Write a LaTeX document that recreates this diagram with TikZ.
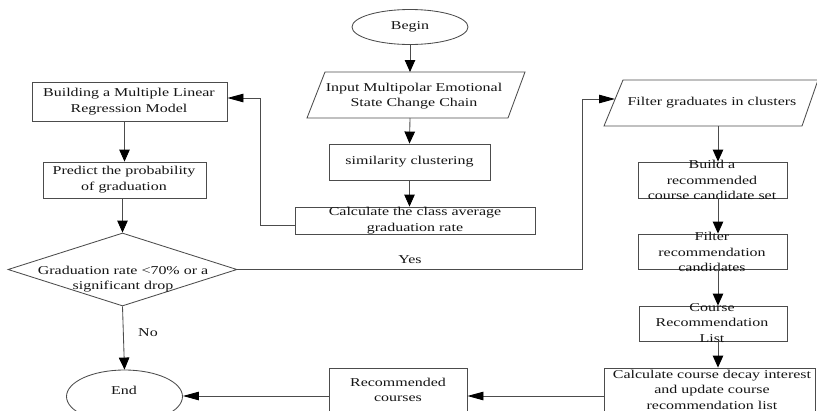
\documentclass[tikz,border=0pt]{standalone}
\usepackage{fontspec}
\setmainfont{Liberation Serif}[FakeStretch=1.33]
\usetikzlibrary{arrows.meta,shapes.geometric,calc}
\definecolor{lc}{gray}{0.3}
\definecolor{tc}{gray}{0.08}
\begin{document}
\begin{tikzpicture}[x=1pt,y=-1pt,
  ln/.style={draw=lc,line width=0.85pt},
  boxs/.style={ln,rectangle,inner sep=0pt},
  txt/.style={align=center,inner sep=0pt,text=tc,font=\fontsize{12}{15.5}\selectfont},
  varr/.style={ln,-{Triangle[length=12pt,width=10.5pt,color=black]}},
  harr/.style={ln,-{Triangle[length=16pt,width=8.5pt,color=black]}}]
\useasboundingbox (0,0) rectangle (817,410);
\clip (0,0) rectangle (817,410);
% Begin
\node[ln,ellipse,minimum width=116pt,minimum height=35pt,inner sep=0pt,txt] (begin) at (410,27) {Begin};
% Input parallelogram
\draw[ln] (325,72) -- (525,72) -- (508,118) -- (307,118) -- cycle;
\coordinate (inN) at (410,72);
\coordinate (inS) at (410,118);
\node[txt] (inT) at (414,96) {Input Multipolar Emotional\\State Change Chain};
% similarity
\node[boxs,minimum width=161pt,minimum height=36pt] (sim) at (409.5,162) {};
\node[txt] (simT) at (409.5,162) {similarity clustering};
% calculate class average
\node[boxs,minimum width=240pt,minimum height=27pt] (calc) at (415,220.5) {};
\node[txt] (calcT) at (415,220.5) {Calculate the class average\\graduation rate};
% building
\node[boxs,minimum width=195pt,minimum height=39pt] (build) at (129.5,101.5) {};
\node[txt] (buildT) at (129,101.5) {Building a Multiple Linear\\Regression Model};
% predict
\node[boxs,minimum width=163pt,minimum height=36pt] (pred) at (124.5,180) {};
\node[txt] (predT) at (124,179.5) {Predict the probability\\of graduation};
% diamond
\node[ln,diamond,minimum width=229pt,minimum height=73pt,inner sep=0pt] (dia) at (122.5,269.5) {};
\node[txt] (diaT) at (123,279) {Graduation rate <70\% or a\\significant drop};
% end
\node[ln,ellipse,minimum width=116pt,minimum height=53pt,inner sep=0pt] (end) at (124.5,396.5) {};
\node[txt] (endT) at (124,390) {End};
% filter parallelogram
\draw[ln] (623,80) -- (818,80) -- (802,126) -- (604,126) -- cycle;
\coordinate (fIn) at (615,99);
\coordinate (fS) at (718,126);
\node[txt] (fT) at (712,103) {Filter graduates in clusters};
% right column boxes
\node[boxs,minimum width=149pt,minimum height=36pt] (bcs) at (712.5,180) {};
\node[txt] (bcsT) at (712,180) {Build a\\recommended\\course candidate set};
\node[boxs,minimum width=149pt,minimum height=35pt] (frec) at (712.5,251.5) {};
\node[txt] (frecT) at (712,252) {Filter\\recommendation\\candidates};
\node[boxs,minimum width=148pt,minimum height=35pt] (crl) at (713,323.5) {};
\node[txt] (crlT) at (712,323) {Course\\Recommendation\\List};
\node[boxs,minimum width=211pt,minimum height=56pt] (decay) at (709.5,396) {};
\node[txt] (decayT) at (712,389.5) {Calculate course decay interest\\and update course\\recommendation list};
\node[boxs,minimum width=138pt,minimum height=56pt] (rec) at (398,396) {};
\node[txt] (recT) at (398,390) {Recommended\\courses};
% connectors
\draw[varr] (begin.south) -- (inN);
\draw[varr] (inS) -- (sim.north);
\draw[varr] (sim.south) -- (sim.south |- calc.north);
\draw[harr] ($(calc.west)+(0,4.5)$) -- ++(-34,0) |- ($(build.east)+(0,-3.5)$);
\draw[varr] (build.south -| pred.north) -- (pred.north);
\draw[varr] (pred.south -| dia.north) -- (dia.north);
\draw[harr] (dia.east) -- (582,269.5) |- (fIn);
\node[txt] (yes) at (410,260) {Yes};
\draw[varr] (dia.south) -- (end.north);
\node[txt] (no) at (148,333) {No};
\draw[varr] (fS) -- (fS |- bcs.north);
\draw[varr] (fS |- bcs.south) -- (fS |- frec.north);
\draw[varr] (fS |- frec.south) -- (fS |- crl.north);
\draw[varr] (fS |- crl.south) -- (fS |- decay.north);
\draw[harr] (decay.west) -- (rec.east);
\draw[harr] (rec.west) -- (rec.west -| end.east);
\end{tikzpicture}
\end{document}
